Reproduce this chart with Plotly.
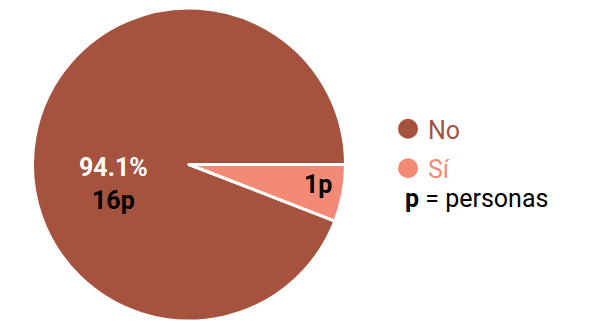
import plotly.graph_objects as go

# datos
labels = ["No", "Sí"]
values = [16, 1]
colors = ["#a5523e", "#f28a76"]
pct_labels = ["94.1%", ""]
count_labels = ["16p", "1p"]

FONT = "Roboto, Noto Sans, sans-serif"
W, H = 593, 323
OFF = 8  # margen del body de la página


def px(x):
    return (x - OFF) / W


def py(y):
    return 1 - (y - OFF) / H


# el sector "Sí" empieza a las 3 en punto y va hacia abajo
rot = 90 + 360 * values[1] / sum(values)

fig = go.Figure()

fig.add_trace(go.Pie(
    labels=labels,
    values=values,
    sort=False,
    direction="clockwise",
    rotation=rot,
    marker=dict(colors=colors, line=dict(color="white", width=3)),
    textinfo="none",
    hoverinfo="label+value+percent",
    showlegend=False,
    domain=dict(x=[24.5 / W, 337.5 / W], y=[10 / H, 1]),
))

# leyenda con círculos
for lab, col in zip(labels, colors):
    fig.add_trace(go.Scatter(
        x=[None], y=[None], mode="markers",
        marker=dict(symbol="circle", size=16, color=col,
                    line=dict(color=col, width=4)),
        name=f'<span style="color:{col}">{lab}</span>',
        legendgroup=lab,
        showlegend=True,
    ))

# etiquetas del sector grande
fig.add_annotation(
    x=px(113), y=py(184), xref="paper", yref="paper", xanchor="center",
    text=(f'<span style="color:white"><b>{pct_labels[0]}</b></span><br>'
          f'<span style="color:black"><b>{count_labels[0]}</b></span>'),
    showarrow=False, align="center",
    font=dict(family=FONT, size=25, color="black"))
fig.add_annotation(x=px(318), y=py(184), xref="paper", yref="paper",
                   xanchor="center", text=f"<b>{count_labels[1]}</b>",
                   showarrow=False,
                   font=dict(family=FONT, size=25, color="black"))
fig.add_annotation(x=px(403), y=py(198), xref="paper", yref="paper",
                   xanchor="left", text="<b>p</b> = personas",
                   showarrow=False,
                   font=dict(family=FONT, size=25, color="black"))

fig.update_layout(
    width=W, height=H,
    margin=dict(l=0, r=0, t=0, b=0),
    paper_bgcolor="white", plot_bgcolor="white",
    font=dict(family=FONT),
    xaxis=dict(visible=False, domain=[0.8, 1]),
    yaxis=dict(visible=False, domain=[0.9, 1]),
    legend=dict(x=px(388), y=py(106), xanchor="left", yanchor="top",
                font=dict(family=FONT, size=25), itemsizing="trace",
                tracegroupgap=4, bgcolor="rgba(0,0,0,0)"),
)

fig.write_html("out.html")
